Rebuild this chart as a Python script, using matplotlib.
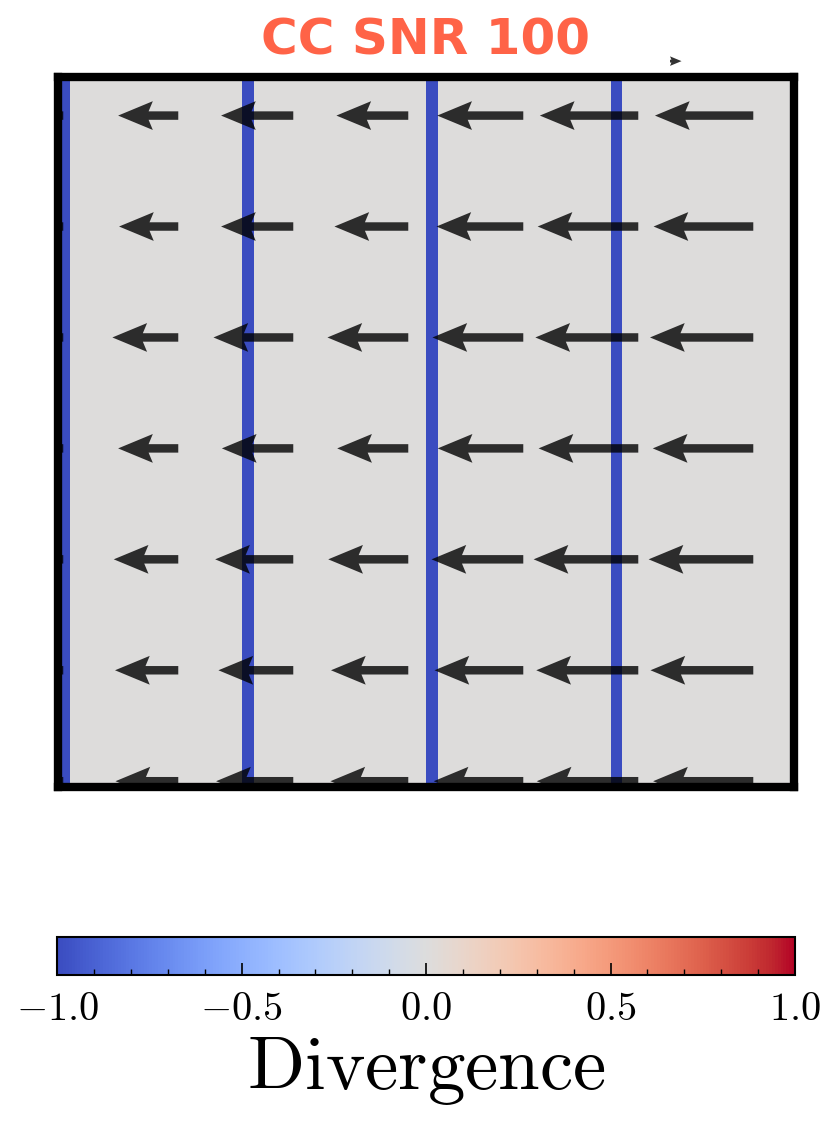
import numpy as np
import matplotlib
matplotlib.use('Agg')
import matplotlib.pyplot as plt
from matplotlib.ticker import MultipleLocator, FuncFormatter

plt.rcParams['mathtext.fontset'] = 'cm'

# divergence map: 64x64 grid, near zero except the sink columns
grid_size = 64
sink_cols = [0, 16, 32, 48]
sink_value = -1.0
background_value = 0.0

# quiver sample points (grid cells)
arrow_x = [0, 10, 20, 30, 40, 50, 60]
arrow_y = [0, 10, 20, 30, 40, 50, 60]
# leftward flow magnitude in grid cells, one row per arrow_y (bottom -> top)
flow_speed = [
    [4.3, 5.46, 6.71, 6.77, 7.79, 8.83, 8.71],  # y = 0
    [4.3, 5.50, 6.51, 6.72, 7.72, 8.87, 8.94],  # y = 10
    [4.3, 5.61, 6.79, 6.96, 7.98, 9.10, 9.10],  # y = 20
    [4.3, 5.23, 6.21, 6.18, 7.44, 8.67, 8.74],  # y = 30
    [4.3, 5.73, 6.94, 7.03, 7.90, 8.95, 8.98],  # y = 40
    [4.3, 5.15, 6.28, 6.42, 7.55, 8.75, 8.67],  # y = 50
    [4.3, 5.23, 6.28, 6.25, 7.48, 8.56, 8.55],  # y = 60
]
cbar_ticks = [-1.0, -0.5, 0.0, 0.5, 1.0]

div = np.full((grid_size, grid_size), background_value)
div[:, sink_cols] = sink_value

X, Y = np.meshgrid(arrow_x, arrow_y)
U = -np.array(flow_speed)
V = np.zeros_like(U)

fig = plt.figure(figsize=(8.36, 11.27), dpi=100)
ax = fig.add_axes([0.0688, 0.3019, 0.8804, 0.6300])

im = ax.imshow(div, cmap='coolwarm', vmin=-1, vmax=1, origin='lower',
               aspect='auto', interpolation='nearest')
q = ax.quiver(X, Y, U, V, angles='xy', scale_units='xy', scale=1,
              color='black', alpha=0.8, width=0.0115,
              headwidth=3.4, headlength=4.1, headaxislength=3.6)
ax.quiverkey(q, X=0.84, Y=1.022, U=1, label='', coordinates='axes')
ax.set_xlim(-0.5, grid_size - 0.5)
ax.set_ylim(-0.5, grid_size - 0.5)
ax.set_xticks([])
ax.set_yticks([])
for s in ax.spines.values():
    s.set_linewidth(6)
ax.set_title('CC SNR 100', color='tomato', fontsize=36, fontweight='bold',
             family='DejaVu Sans', pad=16)

cax = fig.add_axes([0.0685, 0.1349, 0.8824, 0.0337])
cb = fig.colorbar(im, cax=cax, orientation='horizontal')
cb.outline.set_linewidth(1.5)
cb.set_ticks(cbar_ticks)
cax.xaxis.set_minor_locator(MultipleLocator(0.1))
cax.xaxis.set_major_formatter(FuncFormatter(lambda v, p: f'${v:.1f}$'))
cax.tick_params(which='major', direction='in', length=9, width=1.2,
                labelsize=29, pad=10)
cax.tick_params(which='minor', direction='in', length=4.5, width=1.0)
cb.set_label(r'$\mathrm{Divergence}$', fontsize=54, labelpad=4)

fig.savefig('out.png', dpi=100)
